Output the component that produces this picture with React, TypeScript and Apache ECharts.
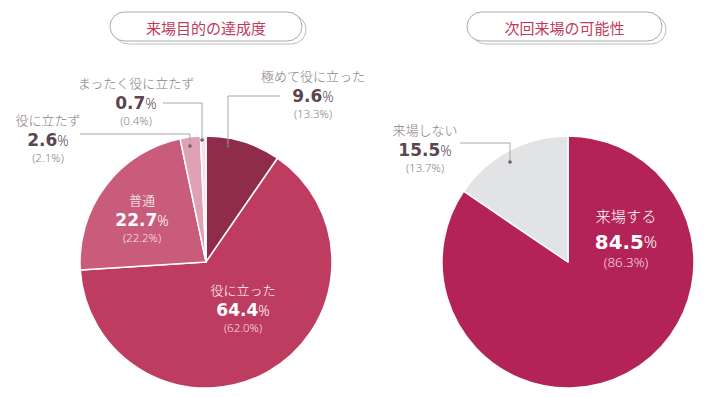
import React, { useEffect, useRef } from "react";
import * as echarts from "echarts";

// ---- data ----
const leftNames = ["極めて役に立った", "役に立った", "普通", "役に立たず", "まったく役に立たず"];
const leftValues = [9.6, 64.4, 22.7, 2.6, 0.7];
const leftPrev = [13.3, 62.0, 22.2, 2.1, 0.4];
const rightNames = ["来場する", "来場しない"];
const rightValues = [84.5, 15.5];
const rightPrev = [86.3, 13.7];
const titles = ["来場目的の達成度", "次回来場の可能性"];

// ---- styles / layout ----
const leftColors = ["#8f2b4b", "#be3c60", "#c95c7a", "#dfa1b3", "#f3e1e7"];
const rightColors = ["#b32357", "#e2e3e5"];
const leftInside = [false, true, true, false, false];
const rightInside = [true, false];
const leftBig = [false, false, false, false, false];
const rightBig = [true, false];
// value-line centre of each label
const leftLabelAt: number[][] = [[313, 96], [243, 310], [142, 220], [48, 140], [136, 103]];
const rightLabelAt: number[][] = [[626, 242], [425, 150]];
const leftLines: (number[][] | null)[] = [
  [[228, 146], [228, 96], [280, 96]],
  null,
  null,
  [[190, 146], [190, 134], [80, 134]],
  [[202, 140], [202, 103], [163, 103]],
];
const rightLines: (number[][] | null)[] = [null, [[510, 162], [510, 143], [460, 143]]];

const CJK = "'Noto Sans CJK JP', 'Noto Sans', sans-serif";

function richFor(inside: boolean, big: boolean) {
  const main = inside ? "#ffffff" : "#5b4650";
  const k = big ? 1.17 : 1;
  return {
    n: { fontFamily: CJK, fontWeight: 300, fontSize: 13 * k, color: inside ? "#ffffff" : "#867d81", lineHeight: big ? 26 : 20 },
    v: { fontFamily: "'DejaVu Sans', sans-serif", fontWeight: "bold", fontSize: 17 * k, color: main, lineHeight: big ? 28 : 22 },
    p: { fontFamily: "'Noto Sans', sans-serif", fontWeight: 300, fontSize: 14 * k, color: main, lineHeight: big ? 28 : 22 },
    s: { fontFamily: "'Noto Sans', sans-serif", fontWeight: 300, fontSize: 11.5 * k, color: inside ? "rgba(255,255,255,0.85)" : "#8a8085", lineHeight: 12 },
  };
}

function buildData(names: string[], values: number[], prev: number[], colors: string[], inside: boolean[], big: boolean[]) {
  return names.map((name, i) => ({
    name,
    value: values[i],
    itemStyle: { color: colors[i] },
    label: {
      show: true,
      position: inside[i] ? "inside" : "outside",
      formatter: () => `{n|${name}}\n{v|${values[i].toFixed(1)}}{p|%}\n{s|(${prev[i].toFixed(1)}%)}`,
      rich: richFor(inside[i], big[i]),
      align: "center",
    },
    labelLine: { show: false },
  }));
}

function makeLayout(at: number[][], big: boolean[]) {
  return (params: any) => {
    const i = params.dataIndex;
    return { x: at[i][0], y: at[i][1] - (big[i] ? 40 : 31), align: "center", verticalAlign: "top" };
  };
}

function titleBox(x: number, w: number, text: string) {
  return [
    {
      type: "rect",
      shape: { x: x + 4, y: 15, width: w, height: 29, r: 14.5 },
      style: { fill: "#ffffff", stroke: "#bdbdbd", lineWidth: 1 },
    },
    {
      type: "rect",
      shape: { x, y: 12, width: w, height: 29, r: 14.5 },
      style: { fill: "#ffffff", stroke: "#a9a9a9", lineWidth: 1 },
    },
    {
      type: "text",
      x: x + w / 2,
      y: 27,
      style: {
        text,
        fill: "#c23a5a",
        font: `normal 15px ${CJK}`,
        textAlign: "center",
        textVerticalAlign: "middle",
      },
    },
  ];
}

function leaders(lines: (number[][] | null)[]) {
  const out: any[] = [];
  lines.forEach((l) => {
    if (!l) return;
    out.push({
      type: "polyline",
      shape: { points: l },
      style: { stroke: "#a9a5a7", lineWidth: 1, fill: null },
      z: 100,
    });
    out.push({
      type: "circle",
      shape: { cx: l[0][0], cy: l[0][1], r: 1.8 },
      style: { fill: "#6d6468" },
      z: 101,
    });
  });
  return out;
}

export default function App() {
  const ref = useRef<HTMLDivElement>(null);
  useEffect(() => {
    document.body.style.margin = "0";
    const chart = echarts.init(ref.current!, null, { renderer: "svg" });
    chart.setOption({
      animation: false,
      backgroundColor: "#ffffff",
      graphic: [
        ...titleBox(110, 192, titles[0]),
        ...titleBox(467, 195, titles[1]),
        ...leaders(leftLines),
        ...leaders(rightLines),
      ],
      series: [
        {
          type: "pie",
          center: [206, 262],
          radius: [0, 126],
          startAngle: 90,
          clockwise: true,
          avoidLabelOverlap: false,
          itemStyle: { borderColor: "#ffffff", borderWidth: 1.5 },
          emphasis: { disabled: true },
          data: buildData(leftNames, leftValues, leftPrev, leftColors, leftInside, leftBig),
          labelLayout: makeLayout(leftLabelAt, leftBig),
        },
        {
          type: "pie",
          center: [568, 262],
          radius: [0, 126],
          startAngle: 90,
          clockwise: true,
          avoidLabelOverlap: false,
          itemStyle: { borderColor: "#ffffff", borderWidth: 1.5 },
          emphasis: { disabled: true },
          data: buildData(rightNames, rightValues, rightPrev, rightColors, rightInside, rightBig),
          labelLayout: makeLayout(rightLabelAt, rightBig),
        },
      ],
    });
    return () => chart.dispose();
  }, []);
  return <div ref={ref} style={{ width: 713, height: 397 }} />;
}
